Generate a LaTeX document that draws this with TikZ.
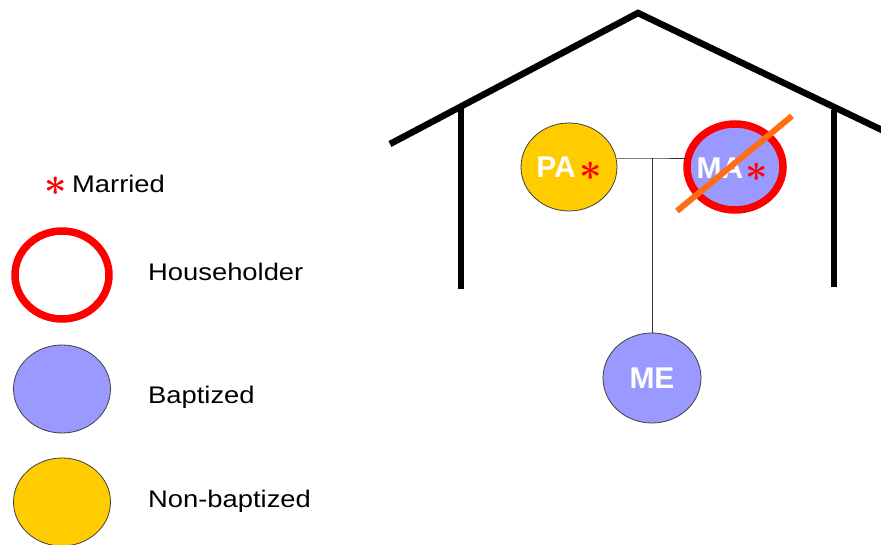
\documentclass[tikz,border=0pt]{standalone}
\usepackage{fontspec}
\setmainfont{Liberation Sans}
\newfontfamily\lab[FakeStretch=1.14]{Liberation Sans}
\usetikzlibrary{shapes.geometric}
\definecolor{yel}{RGB}{255,204,0}
\definecolor{blu}{RGB}{153,153,255}
\definecolor{rd}{RGB}{255,0,0}
\definecolor{org}{RGB}{255,110,20}
\newcommand{\redast}{\scalebox{3.9}{\boldmath$\ast$}}
\begin{document}
\begin{tikzpicture}[x=1pt,y=-1pt,
  person/.style={ellipse,draw=black!75,line width=0.8pt,inner sep=0pt},
  ring/.style={ellipse,draw=rd,line width=7.5pt,inner sep=0pt},
  wall/.style={line width=6.5pt,draw=black},
  conn/.style={line width=0.9pt,draw=black!80},
  legtext/.style={anchor=base west,inner sep=0pt,font=\lab\fontsize{24}{28}\selectfont},
  init/.style={font=\bfseries\fontsize{30}{34}\selectfont,text=white,inner sep=0pt},
  star/.style={text=rd,inner sep=0pt}]
\useasboundingbox (0,0) rectangle (881,545);
% house
\coordinate (rl) at (390,144);
\coordinate (apex) at (638,13);
\coordinate (rr) at (884,131);
\coordinate (lwt) at (461,108);
\coordinate (lwb) at (461,289);
\coordinate (rwt) at (834,110);
\coordinate (rwb) at (834,287);
\draw[wall,line join=miter] (rl) -- (apex) -- (rr);
\draw[wall] (lwt) -- (lwb);
\draw[wall] (rwt) -- (rwb);
% people
\node[person,fill=yel,minimum width=96pt,minimum height=88pt] (pa) at (569,167) {};
\node[person,fill=blu,minimum width=96pt,minimum height=86pt] (ma) at (735,167) {};
\node[ring,minimum width=96pt,minimum height=86pt] (mar) at (735,167) {};
\node[person,fill=blu,minimum width=98pt,minimum height=90pt] (me) at (652,378) {};
\node[init] (patext) at (556,167) {PA};
\node[star] (pastar) at (591,171) {\redast};
\node[init] (matext) at (720,168) {MA};
\node[star] (mastar) at (757,172) {\redast};
\node[init] (metext) at (652,378) {ME};
% connectors
\coordinate (j) at (652,158);
\draw[conn] (pa.east |- j) -- (j) -- (ma.west |- j);
\draw[conn] (j) -- (me.north);
% cross
\coordinate (c1) at (677,211);
\coordinate (c2) at (792,116);
\draw[org,line width=6pt] (c1) -- (c2);
% legend
\node[star] (lstar) at (56,186) {\redast};
\node[legtext] (married) at (72,193) {Married};
\node[ring,minimum width=94pt,minimum height=88pt] (lring) at (62,275) {};
\node[legtext] (lhh) at (148,281) {Householder};
\node[person,fill=blu,minimum width=97pt,minimum height=88pt] (lbap) at (62,389) {};
\node[legtext] (lbt) at (148,403) {Baptized};
\node[person,fill=yel,minimum width=97pt,minimum height=88pt] (lnon) at (62,502) {};
\node[legtext] (lnt) at (148,507) {Non-baptized};
\end{tikzpicture}
\end{document}
